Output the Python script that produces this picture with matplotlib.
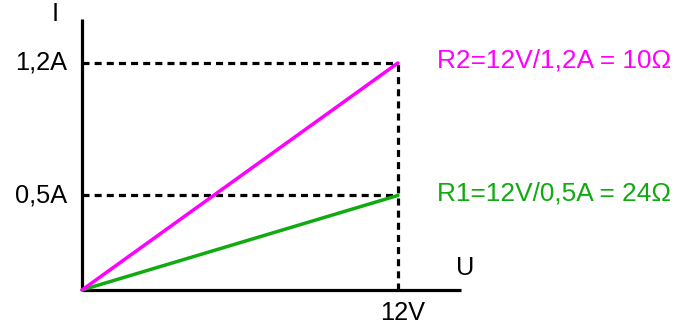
import matplotlib
matplotlib.use("Agg")
import matplotlib.pyplot as plt

plt.rcParams['font.family'] = ['Liberation Sans', 'DejaVu Sans']

u_max = 12
currents = [0.5, 1.2]
i_labels = ["0,5A", "1,2A"]
colors = ["#11AA11", "#FF00FF"]
annotations = ["R1=12V/0,5A = 24Ω", "R2=12V/1,2A = 10Ω"]
x_label = "12V"

W, H = 683, 324
fig = plt.figure(figsize=(W / 100, H / 100), dpi=100)
ax = fig.add_axes([0, 0, 1, 1])
sx = 26.33
sy = 189.2
ox, oy = 82, 290
ax.set_xlim(-ox / sx, (W - ox) / sx)
ax.set_ylim(-(H - oy) / sy, oy / sy)
ax.axis('off')

lw = 2.3
# axes
ax.plot([0, 0], [0, (oy - 19) / sy], color='black', lw=lw, solid_capstyle='butt')
ax.plot([0, (461 - ox) / sx], [0, 0], color='black', lw=lw, solid_capstyle='butt')

dash = (0, (2.2, 1.6))
imax = max(currents)
ax.plot([u_max, u_max], [0, imax], color='black', lw=lw, linestyle=dash)
for c, lab, col, ann in zip(currents, i_labels, colors, annotations):
    ax.plot([0, u_max], [c, c], color='black', lw=lw, linestyle=dash)
    ax.plot([0, u_max], [0, c], color=col, lw=2.5, solid_capstyle='round')
    ax.text(-15 / sx, c, lab, ha='right', va='center', fontsize=18.3)
    ax.text(u_max + 39 / sx, c + 2 / sy, ann, ha='left', va='center', fontsize=18.9, color=col)

ax.text(u_max + 5 / sx, -23 / sy, x_label, ha='center', va='center', fontsize=18.3)
ax.text((465 - ox) / sx, 22 / sy, "U", ha='center', va='center', fontsize=18.3)
ax.text(-27 / sx, (oy - 14) / sy, "I", ha='center', va='center', fontsize=18.3)

fig.savefig("out.png", dpi=100)
